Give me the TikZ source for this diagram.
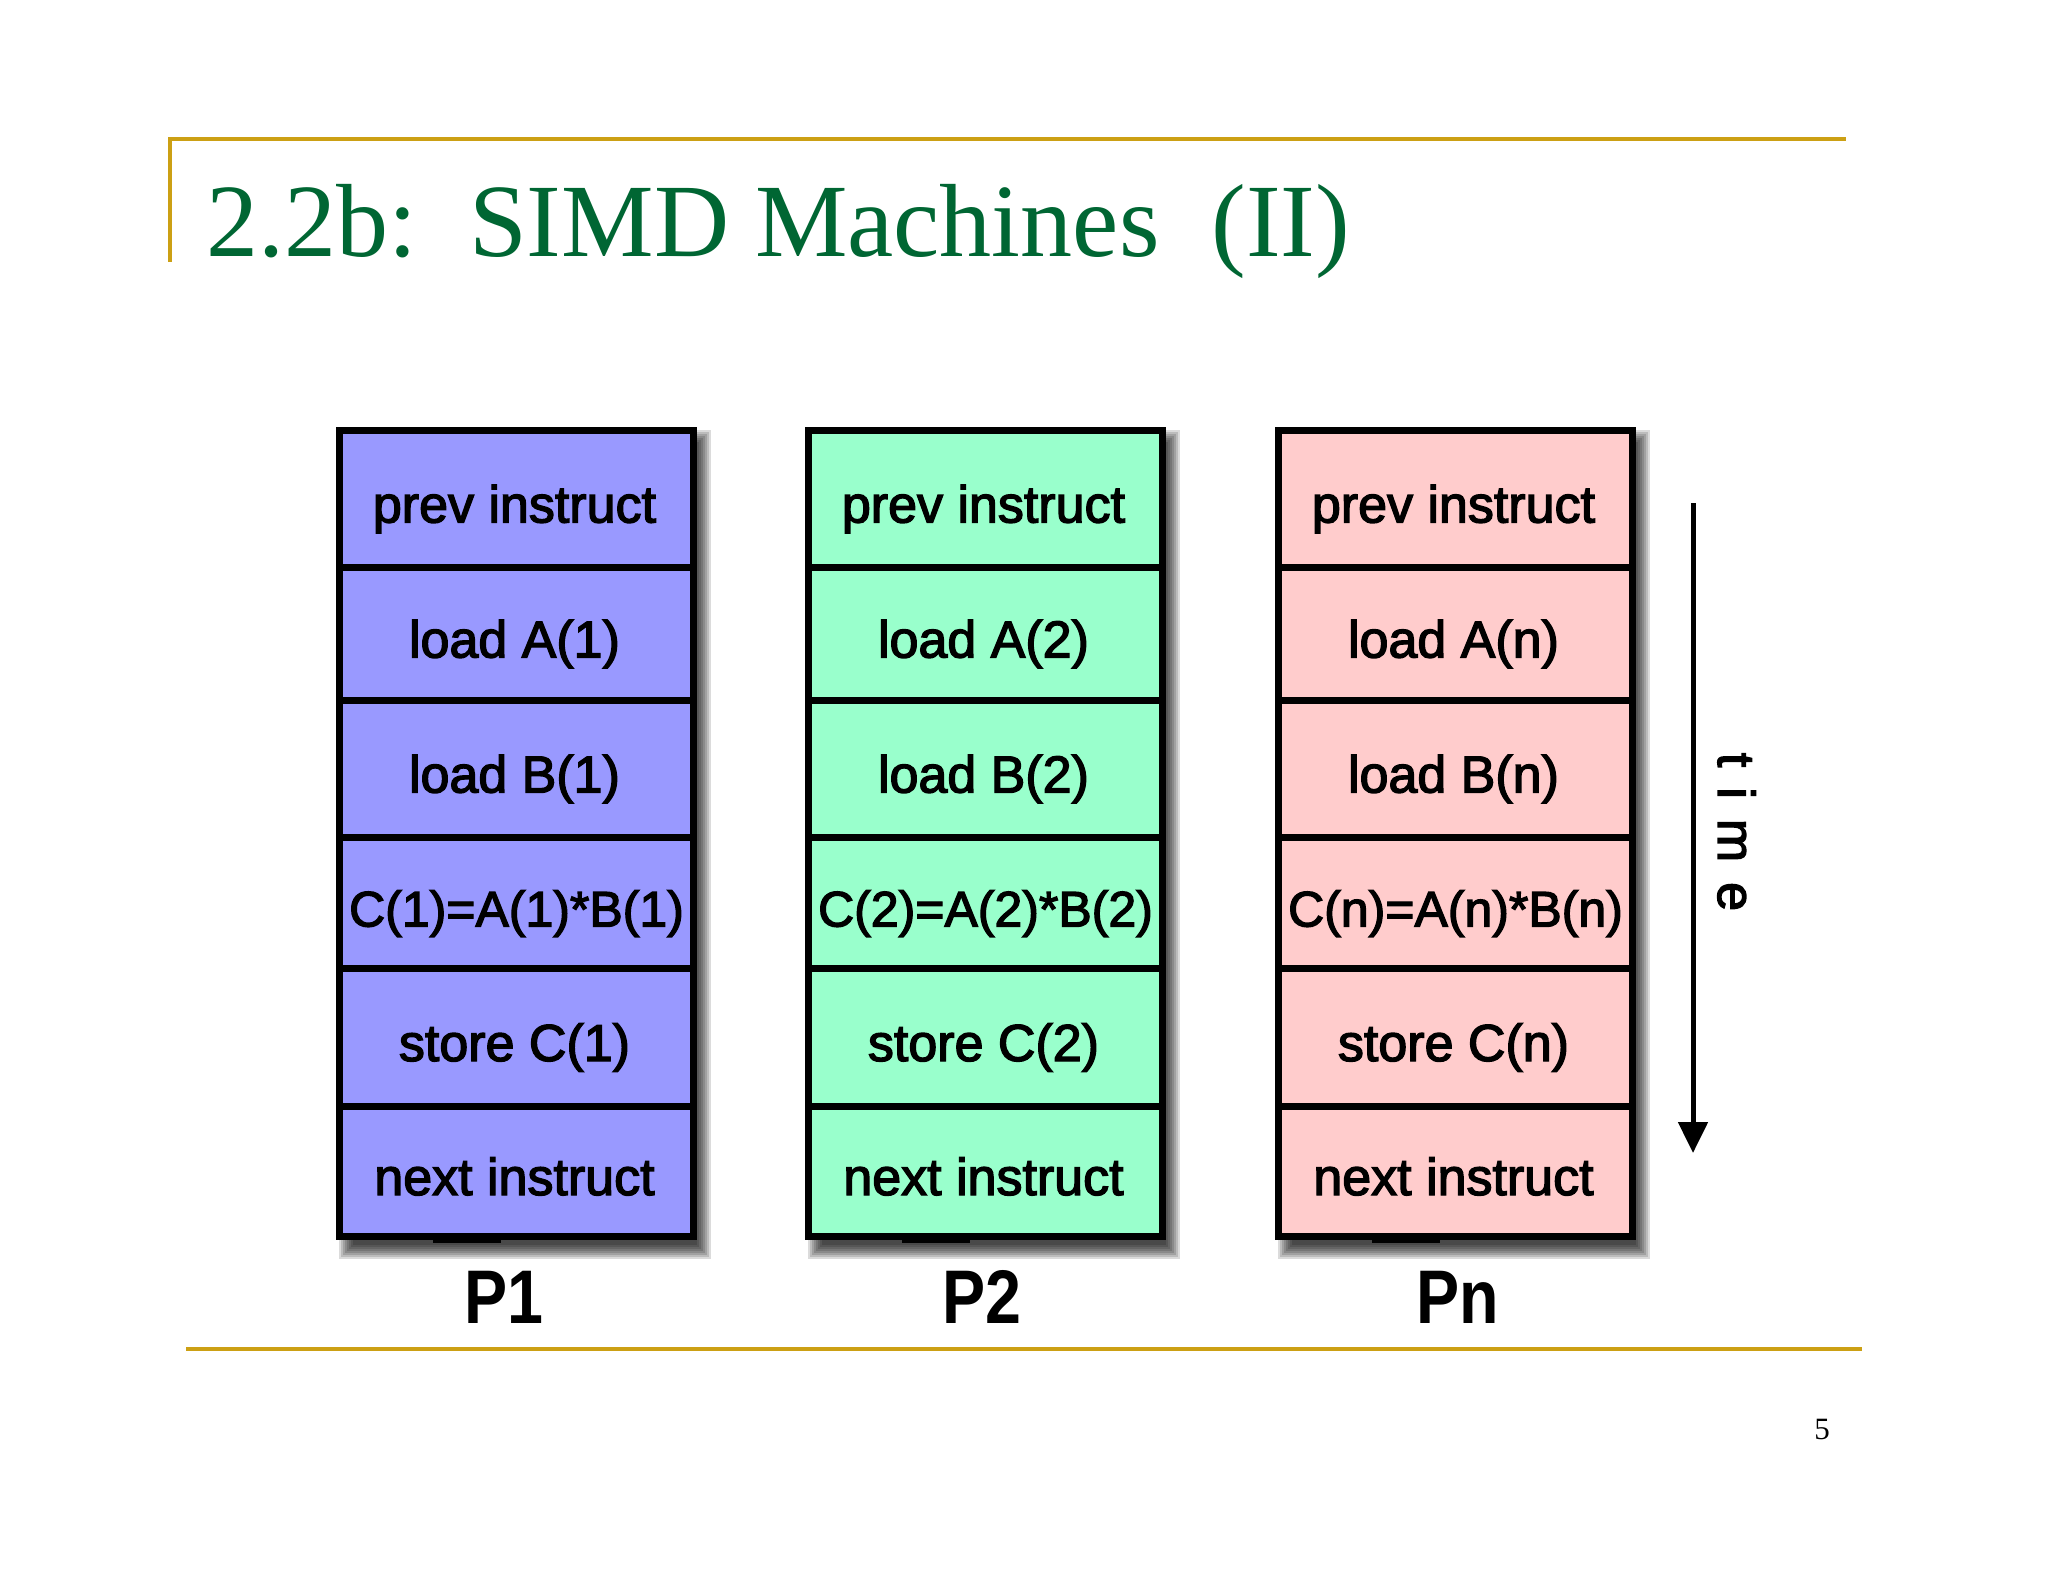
\documentclass[tikz,border=0pt]{standalone}
\usepackage{fontspec}
\newfontfamily\titlefont{Liberation Serif}
\newfontfamily\boxfont[FakeBold=2.6]{Liberation Sans}
\newfontfamily\labfont{Liberation Sans}
\usetikzlibrary{arrows.meta}
\definecolor{gold}{RGB}{204,160,20}
\definecolor{titlegreen}{RGB}{0,102,51}
\definecolor{colA}{RGB}{153,153,255}
\definecolor{colB}{RGB}{153,255,204}
\definecolor{colC}{RGB}{255,204,204}
\tikzset{
  rule/.style={draw=gold, line width=4pt},
  celltext/.style={anchor=base, font=\boxfont\fontsize{52}{60}\selectfont, inner sep=0pt},
  plabel/.style={anchor=base, font=\labfont\bfseries\fontsize{76}{80}\selectfont, inner sep=0pt},
  boxline/.style={line width=7pt, draw=black},
  shadowlayer/.style={fill=black, opacity=0.14},
}
\begin{document}
\begin{tikzpicture}[x=1pt,y=-1pt]
\useasboundingbox (0,0) rectangle (2048,1582);
\fill[white] (0,0) rectangle (2048,1582);
% slide rules
\draw[rule] (170,139) -- (1846,139);
\draw[rule] (170,137) -- (170,262);
\draw[rule] (186,1349) -- (1862,1349);
% title and page number
\node[anchor=base west, inner sep=0pt, text=titlegreen, font=\titlefont\fontsize{104}{110}\selectfont] (title) at (206,256) {2.2b:\ \ SIMD Machines\ \ (II)};
\node[anchor=base, inner sep=0pt, font=\titlefont\fontsize{31}{36}\selectfont] (pagenum) at (1822,1439) {5};
% columns
\foreach \X/\col/\k/\lab/\lx [count=\c] in {339.5/colA/1/P1/504, 808.5/colB/2/P2/982, 1278.5/colC/n/Pn/1458} {
  \pgfmathsetmacro\XR{\X+354}
  \pgfmathsetmacro\XC{\X+175}
  % blurred drop shadow
  \foreach \e in {7,5,3,1,-1,-3,-5,-7} {
    \fill[shadowlayer] (\X+6-\e, 437-\e) rectangle (\XR+10+\e, 1252+\e);
  }
  \fill[\col] (\X,430.5) rectangle (\XR,1236.5);
  \foreach \yy in {567,700,837,968,1106} {
    \draw[line width=7pt] (\X,\yy) -- (\XR,\yy);
  }
  \draw[boxline] (\X,430.5) rectangle (\XR,1236.5);
  \fill[black] (\X+93,1236) rectangle (\X+161,1243);
  \node[celltext] (c\c-1) at (\XC,522.5) {prev instruct};
  \node[celltext] (c\c-2) at (\XC,657.5) {load A(\k)};
  \node[celltext] (c\c-3) at (\XC,792.5) {load B(\k)};
  \node[celltext, font=\boxfont\fontsize{50}{60}\selectfont] (c\c-4) at (\X+177,926.5) {C(\k)=A(\k)*B(\k)};
  \node[celltext] (c\c-5) at (\XC,1061) {store C(\k)};
  \node[celltext] (c\c-6) at (\XC,1195) {next instruct};
  \node[plabel] (lab\c) at (\lx,1323) {\scalebox{0.85}[1]{\lab}};
}
% time arrow
\coordinate (tstart) at (1693,503);
\coordinate (tend) at (1693,1153);
\draw[line width=5pt, -{Triangle[width=29pt,length=31pt]}] (tstart) -- (tend);
\node[rotate=-90, anchor=base, inner sep=0pt, font=\boxfont\fontsize{52}{60}\selectfont] (time) at (1718,832) {t\hspace{20pt}i\hspace{20pt}m\hspace{20pt}e};
\end{tikzpicture}
\end{document}
